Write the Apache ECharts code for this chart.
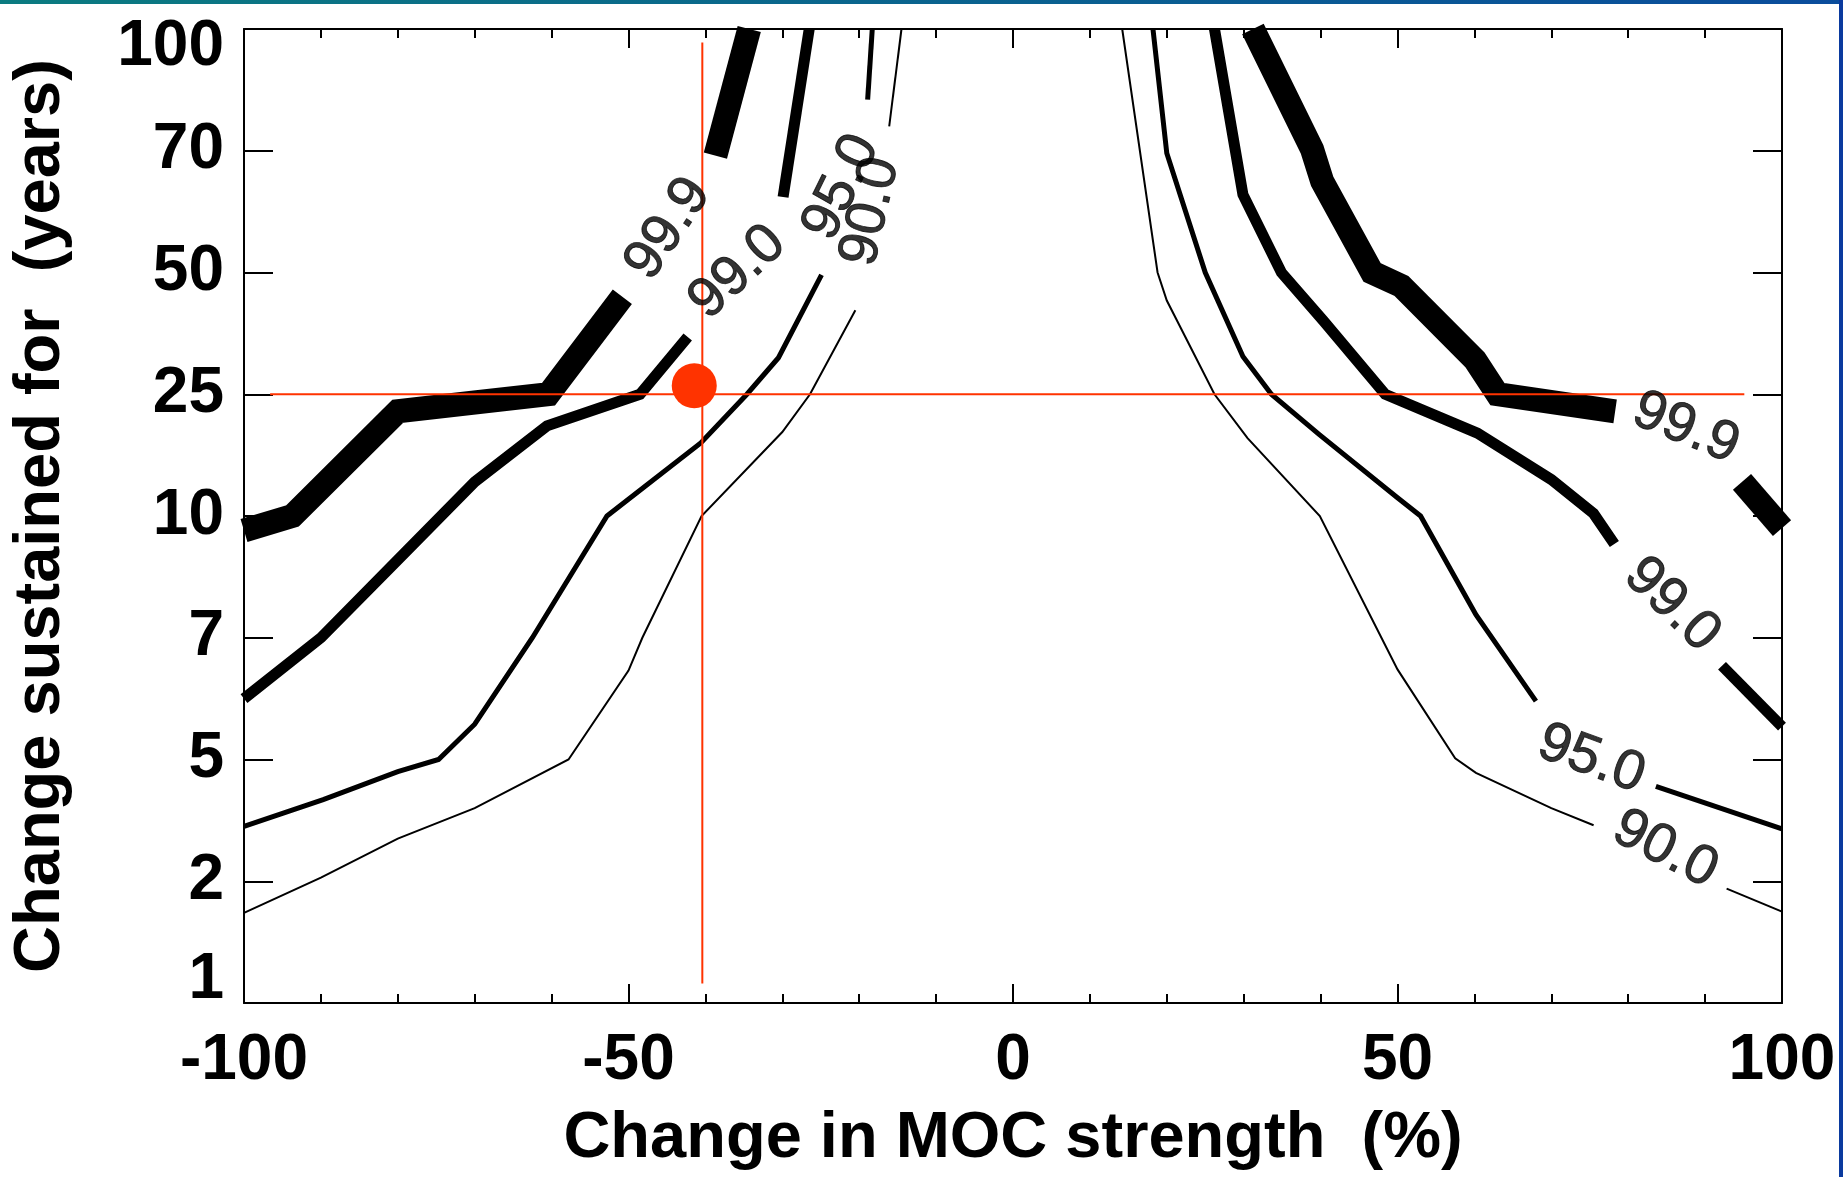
<!DOCTYPE html>
<html>
<head>
<meta charset="utf-8">
<script src="https://cdn.jsdelivr.net/npm/echarts@6/dist/echarts.min.js"></script>
<style>
html,body{margin:0;padding:0;background:#fff;}
#chart{width:1843px;height:1177px;}
</style>
</head>
<body>
<div id="chart"></div>
<script>
// ---------- data ----------
// y axis: equally spaced categories (index 0..8)
const yTickLabels = ['1', '2', '5', '7', '10', '25', '50', '70', '100'];
const xTickLabels = ['-100', '-50', '0', '50', '100'];
const contourLevels = ['90.0', '95.0', '99.0', '99.9'];

// contour branches [x (% MOC change), y (tick index)] – split where labels sit
const c900LeftLow  = [[-100,0.74],[-90,1.03],[-80,1.35],[-70,1.6],[-57.8,2.0],[-50,2.73],[-48.2,3.0],[-40.5,4.0],[-30,4.69],[-26.4,5.0],[-20.5,5.69]];
const c900LeftHigh = [[-16.1,7.2],[-14.5,8.0]];
const c950LeftLow  = [[-100,1.45],[-89.7,1.67],[-80,1.9],[-74.7,2.0],[-70,2.29],[-62.5,3.0],[-52.8,4.0],[-40.6,4.6],[-34.6,5.0],[-30.5,5.3],[-24.9,5.98]];
const c950LeftHigh = [[-18.9,7.42],[-18.3,8.0]];
const c990LeftLow  = [[-100,2.5],[-90,3.0],[-80,3.64],[-70,4.28],[-60.6,4.74],[-48.5,5.0],[-42.3,5.47]];
const c990LeftHigh = [[-29.9,6.62],[-26.5,8.0]];
const c999LeftLow  = [[-100,3.88],[-93.7,4.0],[-80,4.86],[-70.3,4.93],[-60.4,5.0],[-50.8,5.8]];
const c999LeftHigh = [[-38.7,6.96],[-34.3,8.0]];

const c900RightHigh = [[14.2,8.0],[18.8,6.0],[20.0,5.77],[26.2,5.0],[30.5,4.64],[39.9,4.0],[50.0,2.74],[57.5,2.01],[60.2,1.89],[70,1.6],[75.5,1.46]];
const c900RightLow  = [[92.8,0.94],[100,0.75]];
const c950RightHigh = [[18.2,8.0],[20.0,6.98],[25.0,6.0],[29.9,5.31],[33.6,5.0],[39.8,4.67],[50,4.15],[53.0,4.0],[60.2,3.19],[68.0,2.48]];
const c950RightLow  = [[83.6,1.78],[100,1.43]];
const c990RightHigh = [[26.2,8.0],[29.9,6.64],[34.9,6.0],[40.4,5.6],[48.4,5.0],[60.4,4.68],[70.0,4.3],[75.5,4.02],[78.2,3.77]];
const c990RightLow  = [[92.2,2.77],[100,2.27]];
const c999RightHigh = [[31.2,8.0],[38.9,7.01],[40.2,6.75],[46.7,6.0],[50.5,5.89],[60.1,5.28],[63.0,5.0],[78.3,4.86]];
const c999RightLow  = [[94.8,4.28],[100,3.9]];

// contour label anchors: [text, x, y-index]
const contourLabels = [
  ['99.9', -44.8, 6.36], ['99.0', -35.8, 6.0], ['95.0', -22.3, 6.7], ['90.0', -18.5, 6.5],
  ['99.9', 87.5, 4.72], ['99.0', 85.7, 3.27], ['95.0', 75.2, 2.0], ['90.0', 84.8, 1.26]
];

// red cross-hair and marked point
const redHLine = [[-96.6, 5.0], [95.1, 5.0]];
const redVLine = [[-40.4, 0.16], [-40.4, 7.89]];
const markedPoint = [[-41.45, 5.07]];

// ---------- styling (not data) ----------
const FONT = '"Liberation Sans", Arial, Helvetica, sans-serif';
const levelWidth = {'90.0': 2, '95.0': 5, '99.0': 11, '99.9': 24};
const labelAngles = [56, 43, 64, 77, -22, -44, -20, -27];
const RED = '#ff3300';

const segments = [
  ['90.0', c900LeftLow], ['90.0', c900LeftHigh], ['90.0', c900RightHigh], ['90.0', c900RightLow],
  ['95.0', c950LeftLow], ['95.0', c950LeftHigh], ['95.0', c950RightHigh], ['95.0', c950RightLow],
  ['99.0', c990LeftLow], ['99.0', c990LeftHigh], ['99.0', c990RightHigh], ['99.0', c990RightLow],
  ['99.9', c999LeftLow], ['99.9', c999LeftHigh], ['99.9', c999RightHigh], ['99.9', c999RightLow]
];

const series = [];
segments.forEach(function (s) {
  series.push({
    type: 'line', name: s[0], data: s[1], symbol: 'none', z: 2,
    lineStyle: {color: '#000', width: levelWidth[s[0]], cap: 'butt', join: 'miter'},
    silent: true
  });
});
series.push({type: 'line', data: redHLine, symbol: 'none', z: 3,
  lineStyle: {color: RED, width: 2}});
series.push({type: 'line', data: redVLine, symbol: 'none', z: 3,
  lineStyle: {color: RED, width: 2}});
series.push({type: 'scatter', data: markedPoint, symbol: 'circle', symbolSize: 45, z: 4,
  itemStyle: {color: RED, opacity: 1}});
series.push({
  type: 'scatter', z: 5, symbolSize: 1,
  itemStyle: {color: 'rgba(0,0,0,0)'},
  data: contourLabels.map(function (l, i) {
    return {value: [l[1], l[2]], label: {formatter: l[0], rotate: labelAngles[i]}};
  }),
  label: {show: true, position: 'inside', color: '#000', fontSize: 56,
    fontFamily: FONT, fontWeight: 'normal', textBorderColor: '#000', textBorderWidth: 0.9}
});

const axisLineStyle = {color: '#000', width: 2};
const labelStyle = {color: '#000', fontSize: 64, fontWeight: 'bold', fontFamily: FONT};

const option = {
  animation: false,
  backgroundColor: '#ffffff',
  grid: {left: 244, right: 61, top: 29, bottom: 170, containLabel: false},
  xAxis: [{
    type: 'value', min: -100, max: 100, interval: 50, position: 'bottom',
    name: 'Change in MOC strength  (%)', nameLocation: 'middle', nameGap: 104,
    nameTextStyle: {color: '#000', fontSize: 65, fontWeight: 'bold', fontFamily: FONT},
    axisLine: {show: true, onZero: false, lineStyle: axisLineStyle},
    axisTick: {show: true, inside: true, length: 19, lineStyle: axisLineStyle},
    minorTick: {show: true, splitNumber: 5, length: 9, lineStyle: {color: '#000', width: 2}},
    axisLabel: Object.assign({margin: 26, showMinLabel: true, showMaxLabel: true,
      formatter: function (v) { return xTickLabels[Math.round((v + 100) / 50)]; }}, labelStyle),
    splitLine: {show: false}
  }, {
    type: 'value', min: -100, max: 100, interval: 50, position: 'top',
    axisLine: {show: true, onZero: false, lineStyle: axisLineStyle},
    axisTick: {show: true, inside: true, length: 19, lineStyle: axisLineStyle},
    minorTick: {show: true, splitNumber: 5, length: 9, lineStyle: {color: '#000', width: 2}},
    axisLabel: {show: false}, splitLine: {show: false}
  }],
  yAxis: [{
    type: 'value', min: 0, max: 8, interval: 1, position: 'left',
    name: 'Change sustained for  (years)', nameLocation: 'middle', nameGap: 170,
    nameTextStyle: {color: '#000', fontSize: 65, fontWeight: 'bold', fontFamily: FONT},
    axisLine: {show: true, onZero: false, lineStyle: axisLineStyle},
    axisTick: {show: true, inside: true, length: 29, lineStyle: axisLineStyle},
    axisLabel: Object.assign({
      margin: 20, showMinLabel: true, showMaxLabel: true,
      formatter: function (v) {
        const t = yTickLabels[Math.round(v)];
        if (v === 8) return '{top|' + t + '}';
        if (v === 0) return '{bot|' + t + '}';
        return t;
      },
      rich: {
        top: {padding: [36, 0, 0, 0], fontSize: 64, fontWeight: 'bold', fontFamily: FONT, color: '#000'},
        bot: {padding: [0, 0, 46, 0], fontSize: 64, fontWeight: 'bold', fontFamily: FONT, color: '#000'}
      }
    }, labelStyle),
    splitLine: {show: false}
  }, {
    type: 'value', min: 0, max: 8, interval: 1, position: 'right',
    axisLine: {show: true, onZero: false, lineStyle: axisLineStyle},
    axisTick: {show: true, inside: true, length: 29, lineStyle: axisLineStyle},
    axisLabel: {show: false}, splitLine: {show: false}
  }],
  graphic: [
    {type: 'rect', left: 0, top: 0, z: 100, silent: true,
     shape: {width: 1843, height: 4},
     style: {fill: new echarts.graphic.LinearGradient(0, 0, 1, 0, [
       {offset: 0, color: '#0b7b80'}, {offset: 1, color: '#0a4c9c'}])}},
    {type: 'rect', left: 1839, top: 0, z: 100, silent: true,
     shape: {width: 4, height: 1177},
     style: {fill: '#0a3a9e'}}
  ],
  series: series
};

const chart = echarts.init(document.getElementById('chart'), null, {renderer: 'canvas'});
chart.setOption(option);
</script>
</body>
</html>
